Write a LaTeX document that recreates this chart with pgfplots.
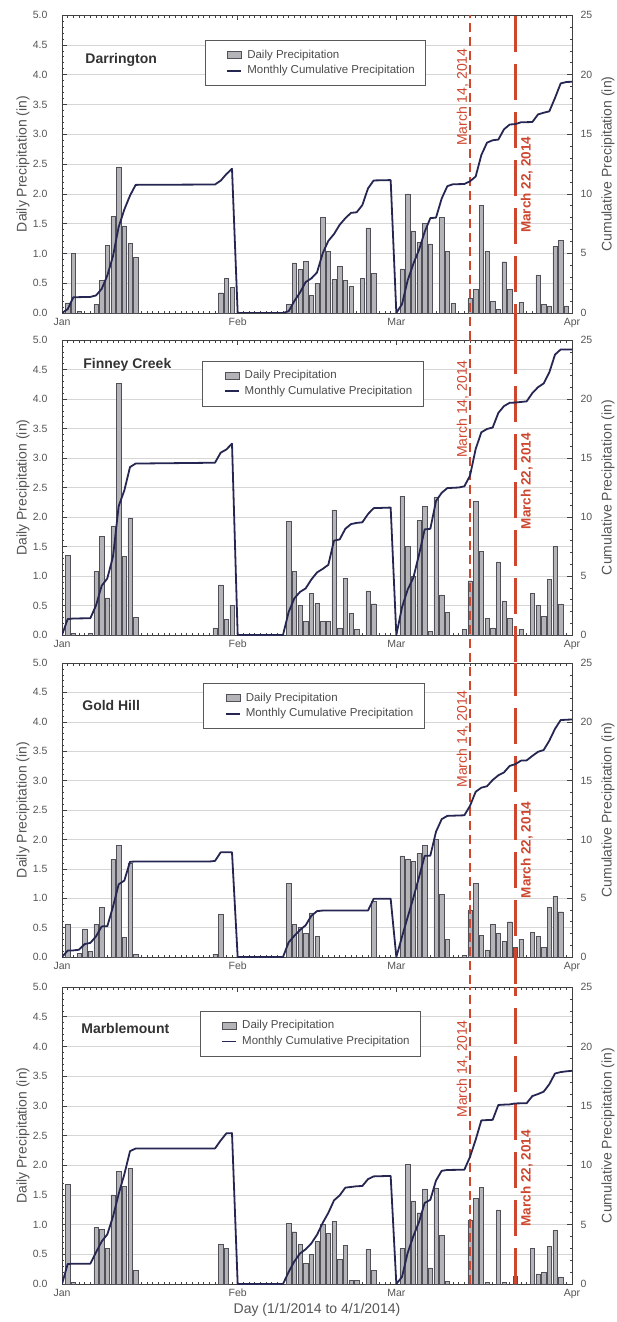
\documentclass[border=0pt]{standalone}
\usepackage{pgfplots}
\pgfplotsset{compat=1.18}
\usepackage{fontspec}
\setmainfont{Liberation Sans}
\definecolor{barfill}{RGB}{180,180,184}
\definecolor{baredge}{RGB}{80,80,88}
\definecolor{cumline}{RGB}{38,38,82}
\definecolor{datered}{RGB}{205,70,45}
\definecolor{tickgray}{RGB}{85,85,85}
\definecolor{gridgray}{RGB}{214,214,214}

\pgfplotsset{
  base/.style={
    scale only axis, width=510pt, xmin=0, xmax=90,
    axis line style={black!75, line width=0.7pt},
    tick style={black!75, line width=0.5pt},
    tick align=inside, major tick length=5pt, minor tick length=2.5pt,
    tick label style={font=\fontsize{10.5}{11}\selectfont, text=tickgray},
    /pgf/number format/assume math mode=true,
    label style={font=\fontsize{14}{16}\selectfont, text=tickgray},
  },
  leftax/.style={base, ymin=0, ymax=5,
    xtick={0,31,59,90}, xticklabels={Jan,Feb,Mar,Apr},
    minor xtick={1,...,89}, xtick pos=both, xticklabel pos=lower,
    xticklabel style={yshift=-1.5pt},
    ytick={0,0.5,1,1.5,2,2.5,3,3.5,4,4.5,5}, minor y tick num=4,
    ytick pos=left,
    yticklabel style={/pgf/number format/fixed, /pgf/number format/fixed zerofill, /pgf/number format/precision=1, xshift=-11pt},
    ymajorgrids, major grid style={gridgray, line width=0.6pt},
    ylabel={Daily Precipitation (in)},
    ylabel style={at={(axis description cs:-0.0765,0.5)}, anchor=center},
    clip=false,
    legend cell align=left,
    legend style={anchor=north west, draw=black!65, line width=0.6pt, fill=white,
      font=\fontsize{11.5}{12}\selectfont, text=black!70,
      inner xsep=7pt, inner ysep=6.8pt, row sep=0pt,
      nodes={inner ysep=1.6pt, text height=9.5pt, text depth=3pt}},
  },
  rightax/.style={base, ymin=0, ymax=25, axis x line=none, axis y line*=right,
    ytick={0,5,10,15,20,25}, minor y tick num=4,
    yticklabel style={xshift=5pt},
    ylabel={Cumulative Precipitation (in)},
    ylabel style={at={(axis description cs:1.0706,0.5)}, anchor=center},
  },
  bars/.style={ybar, bar width=0.75, bar shift=0pt, fill=barfill, draw=baredge, line width=0.45pt, forget plot},
  cum/.style={cumline, line width=1.8pt, line join=round},
}
\newcommand{\legendstuff}{%
  \addlegendimage{legend image code/.code={\path (0pt,0pt); \draw[fill=barfill, draw=baredge, line width=0.6pt] (15pt,-3.5pt) rectangle (29pt,3.5pt);}}
  \addlegendentry{\hspace*{3pt}Daily Precipitation}
  \addlegendimage{legend image code/.code={\path (0pt,0pt); \draw[cumline, line width=1.8pt] (15pt,0pt) -- (29pt,0pt);}}
  \addlegendentry{\hspace*{3pt}Monthly Cumulative Precipitation\hspace*{2pt}}
}
\newcommand{\datelines}[5]{%
  \draw[datered, line width=1.3pt, dash pattern=on 9pt off 5pt] (axis cs:72,#1) -- (axis cs:72,5);
  \draw[datered, line width=3.2pt, dash pattern=on 36pt off 12pt] (axis cs:80,#1) -- (axis cs:80,5);
  \node[rotate=90, text=datered, font=\fontsize{14}{14}\selectfont] at (axis cs:70.7,#2) {March 14, 2014};
  \node[rotate=90, text=datered, font=\bfseries\fontsize{13.5}{14}\selectfont] at (axis cs:82,#3) {March 22, 2014};
  \node[anchor=west, text=black!80, font=\bfseries\fontsize{14}{14}\selectfont] at (axis description cs:#4) {#5};
}

\begin{document}
\begin{tikzpicture}
\useasboundingbox (0,0) rectangle (617pt,-1322pt);

% ---------------- Panel 1: Darrington ----------------
\begin{axis}[leftax, height=298pt, at={(62pt,-15pt)}, anchor=north west,
  legend style={at={(0.28,0.916)}}]
\legendstuff
\addplot[bars] coordinates {
(1,0.17)(2,1.0)(3,0.03)(6,0.14)(7,0.55)(8,1.13)(9,1.62)(10,2.45)(11,1.46)(12,1.17)(13,0.93)
(28,0.34)(29,0.58)(30,0.43)
(40,0.15)(41,0.84)(42,0.73)(43,0.87)(44,0.3)(45,0.5)(46,1.61)(47,1.03)(48,0.57)(49,0.78)(50,0.55)(51,0.45)(53,0.58)(54,1.43)(55,0.67)
(60,0.74)(61,2.0)(62,1.38)(63,1.18)(64,1.5)(65,1.16)(67,1.6)(68,1.04)(69,0.16)(72,0.24)(73,0.4)(74,1.8)(75,1.04)(76,0.2)(77,0.06)(78,0.86)(79,0.4)(81,0.18)(84,0.64)(85,0.14)(86,0.12)(87,1.12)(88,1.22)(89,0.12)
};
\datelines{-0.46}{3.62}{2.15}{0.039,0.849}{Darrington}
\end{axis}
\begin{axis}[rightax, height=298pt, at={(62pt,-15pt)}, anchor=north west]
\addplot[cum] coordinates {
(0,0)(1,0.32)(2,1.32)(5,1.35)(6,1.47)(7,2.02)(8,3.15)(9,4.77)(10,7.22)(11,8.68)(12,9.85)(13,10.75)(27,10.78)(28,11.1)(29,11.65)(30,12.1)(31,0)
(39,0)(40,0.15)(41,1.0)(42,1.72)(43,2.6)(44,2.9)(45,3.4)(46,5.0)(47,6.05)(48,6.62)(49,7.4)(50,7.95)(51,8.4)(52,8.45)(53,9.05)(54,10.45)(55,11.12)(58,11.15)(59,0)
(60,0.74)(61,2.74)(62,4.12)(63,5.3)(64,6.8)(65,7.96)(66,8.0)(67,9.6)(68,10.64)(69,10.8)(71,10.82)(72,11.05)(73,11.45)(74,13.25)(75,14.29)(76,14.49)(77,14.55)(78,15.41)(79,15.81)(80,15.85)(81,16.0)(83,16.02)(84,16.66)(85,16.8)(86,16.92)(87,18.04)(88,19.26)(89,19.38)(90,19.4)
};
\end{axis}

% ---------------- Panel 2: Finney Creek ----------------
\begin{axis}[leftax, height=295pt, at={(62pt,-340pt)}, anchor=north west,
  legend style={at={(0.275,0.93)}}]
\legendstuff
\addplot[bars] coordinates {
(1,1.35)(2,0.03)(5,0.03)(6,1.08)(7,1.67)(8,0.63)(9,1.85)(10,4.27)(11,1.33)(12,1.98)(13,0.3)
(27,0.12)(28,0.85)(29,0.27)(30,0.5)
(40,1.93)(41,1.08)(42,0.5)(43,0.23)(44,0.7)(45,0.54)(46,0.23)(47,0.23)(48,2.12)(49,0.12)(50,0.96)(51,0.37)(52,0.1)(54,0.75)(55,0.53)
(60,2.35)(61,1.5)(62,1.0)(63,1.94)(64,2.18)(65,0.06)(66,2.34)(67,0.68)(68,0.38)(71,0.1)(72,0.92)(73,2.26)(74,1.42)(75,0.28)(76,0.12)(77,1.24)(78,0.58)(79,0.28)(81,0.1)(83,0.7)(84,0.5)(85,0.32)(86,0.94)(87,1.5)(88,0.52)
};
\datelines{-0.46}{3.83}{2.61}{0.035,0.915}{Finney Creek}
\end{axis}
\begin{axis}[rightax, height=295pt, at={(62pt,-340pt)}, anchor=north west]
\addplot[cum] coordinates {
(0,0)(1,1.35)(2,1.4)(5,1.42)(6,2.5)(7,4.17)(8,4.8)(9,6.65)(10,10.92)(11,12.25)(12,14.23)(13,14.53)(27,14.6)(28,15.45)(29,15.72)(30,16.22)(31,0)
(39,0)(40,1.95)(41,3.1)(42,3.65)(43,3.95)(44,4.7)(45,5.3)(46,5.6)(47,5.95)(48,8.0)(49,8.1)(50,9.0)(51,9.4)(52,9.5)(53,9.55)(54,10.25)(55,10.75)(58,10.8)(59,0)
(60,2.35)(61,3.85)(62,4.85)(63,6.8)(64,8.95)(65,9.0)(66,11.35)(67,12.05)(68,12.45)(70,12.5)(71,12.6)(72,13.5)(73,15.76)(74,17.18)(75,17.46)(76,17.58)(77,18.82)(78,19.4)(79,19.68)(80,19.7)(82,19.8)(83,20.5)(84,21.0)(85,21.32)(86,22.26)(87,23.76)(88,24.2)(90,24.2)
};
\end{axis}

% ---------------- Panel 3: Gold Hill ----------------
\begin{axis}[leftax, height=294pt, at={(62pt,-663pt)}, anchor=north west,
  legend style={at={(0.277,0.932)}}]
\legendstuff
\addplot[bars] coordinates {
(1,0.55)(3,0.06)(4,0.48)(5,0.1)(6,0.55)(7,0.85)(9,1.66)(10,1.9)(11,0.33)(12,1.6)(13,0.04)
(27,0.05)(28,0.73)
(40,1.25)(41,0.55)(42,0.5)(43,0.4)(44,0.75)(45,0.35)(55,0.95)
(60,1.72)(61,1.67)(62,1.63)(63,1.76)(64,1.9)(66,2.0)(67,1.07)(68,0.3)(71,0.03)(72,0.8)(73,1.25)(74,0.37)(75,0.12)(76,0.55)(77,0.4)(78,0.26)(79,0.6)(80,0.17)(81,0.3)(83,0.42)(84,0.35)(85,0.16)(86,0.84)(87,1.03)(88,0.77)
};
\datelines{-0.46}{3.71}{1.82}{0.033,0.857}{Gold Hill}
\end{axis}
\begin{axis}[rightax, height=294pt, at={(62pt,-663pt)}, anchor=north west]
\addplot[cum] coordinates {
(0,0)(1,0.55)(2,0.56)(3,0.62)(4,1.1)(5,1.2)(6,1.75)(7,2.6)(8,2.62)(9,4.28)(10,6.18)(11,6.5)(12,8.1)(13,8.12)(26,8.12)(27,8.17)(28,8.9)(30,8.9)(31,0)
(39,0)(40,1.25)(41,1.8)(42,2.3)(43,2.7)(44,3.5)(45,3.9)(46,3.95)(54,3.95)(55,4.95)(58,4.95)(59,0)
(60,1.72)(61,3.39)(62,5.02)(63,6.78)(64,8.6)(65,8.62)(66,10.65)(67,11.72)(68,12.0)(71,12.05)(72,12.85)(73,14.05)(74,14.4)(75,14.52)(76,15.05)(77,15.45)(78,15.7)(79,16.25)(80,16.4)(81,16.7)(82,16.72)(83,17.1)(84,17.45)(85,17.6)(86,18.4)(87,19.4)(88,20.15)(90,20.2)
};
\end{axis}

% ---------------- Panel 4: Marblemount ----------------
\begin{axis}[leftax, height=297pt, at={(62pt,-987pt)}, anchor=north west,
  legend style={at={(0.27,0.92)}},
  xlabel={Day (1/1/2014 to 4/1/2014)},
  xlabel style={at={(axis description cs:0.5,-0.088)}, anchor=center}]
\legendstuff
\addplot[bars] coordinates {
(1,1.68)(2,0.03)(6,0.95)(7,0.92)(8,0.6)(9,1.5)(10,1.9)(11,1.65)(12,1.95)(13,0.23)
(28,0.67)(29,0.6)
(40,1.02)(41,0.88)(42,0.67)(43,0.35)(44,0.5)(45,0.72)(46,1.0)(47,0.85)(48,1.05)(49,0.42)(50,0.65)(51,0.06)(52,0.06)(54,0.58)(55,0.23)
(60,0.6)(61,2.02)(62,1.4)(63,1.2)(64,1.6)(65,0.27)(66,1.62)(67,0.82)(68,0.05)(72,1.08)(73,1.44)(74,1.63)(75,0.03)(77,1.25)(78,0.03)(80,0.13)(83,0.6)(84,0.17)(85,0.2)(86,0.63)(87,0.9)(88,0.12)
};
\datelines{0}{3.62}{1.78}{0.031,0.859}{Marblemount}
\end{axis}
\begin{axis}[rightax, height=297pt, at={(62pt,-987pt)}, anchor=north west]
\addplot[cum] coordinates {
(0,0)(1,1.68)(2,1.71)(5,1.71)(6,2.66)(7,3.58)(8,4.18)(9,5.68)(10,7.58)(11,9.23)(12,11.18)(13,11.41)(27,11.41)(28,12.08)(29,12.68)(30,12.7)(31,0)
(39,0)(40,1.02)(41,1.9)(42,2.57)(43,2.92)(44,3.42)(45,4.14)(46,5.14)(47,5.99)(48,7.04)(49,7.46)(50,8.11)(51,8.17)(52,8.23)(53,8.25)(54,8.83)(55,9.06)(58,9.1)(59,0)
(60,0.6)(61,2.62)(62,4.02)(63,5.22)(64,6.82)(65,7.09)(66,8.71)(67,9.53)(68,9.6)(71,9.62)(72,10.7)(73,12.14)(74,13.77)(75,13.8)(76,13.82)(77,15.07)(78,15.1)(79,15.12)(80,15.2)(82,15.22)(83,15.82)(84,15.99)(85,16.19)(86,16.82)(87,17.72)(88,17.84)(89,17.9)(90,17.95)
};
\end{axis}
\end{tikzpicture}
\end{document}
